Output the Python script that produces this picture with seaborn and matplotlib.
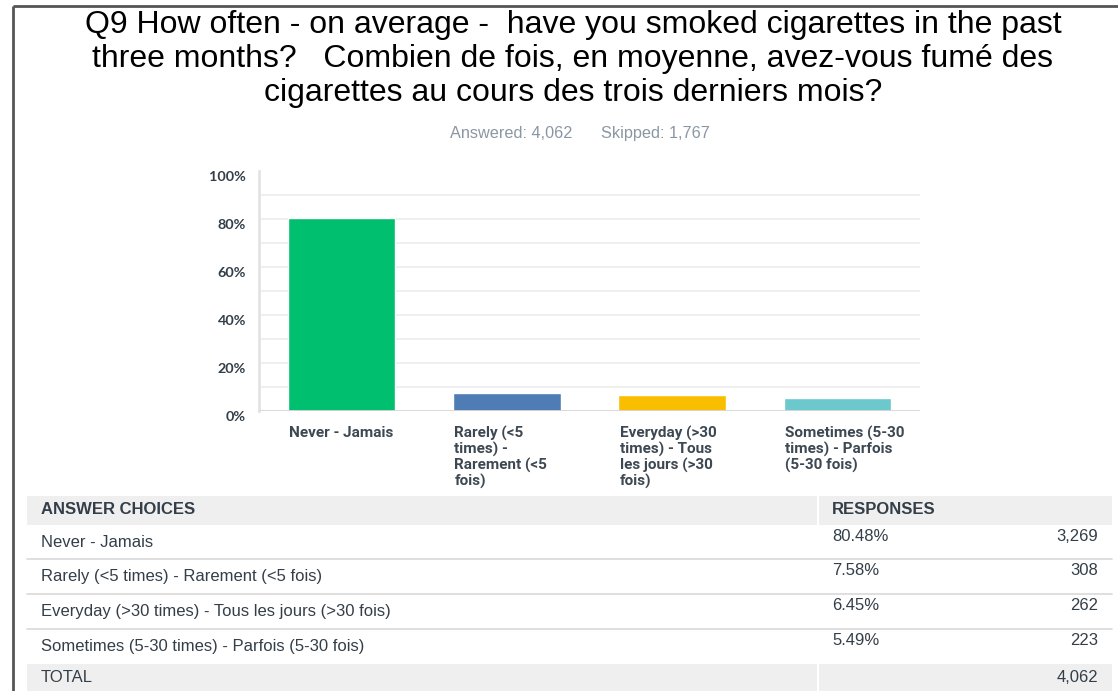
import textwrap
import matplotlib
matplotlib.use("Agg")
import matplotlib.pyplot as plt
import matplotlib.transforms as mtransforms
from matplotlib.patches import Rectangle
import pandas as pd
import seaborn as sns

# ---- data -------------------------------------------------------------
title_lines = [
    "Q9 How often - on average -  have you smoked cigarettes in the past",
    "three months?   Combien de fois, en moyenne, avez-vous fumé des",
    "cigarettes au cours des trois derniers mois?",
]
answered = 4062
skipped = 1767
choices = [
    "Never - Jamais",
    "Rarely (<5 times) - Rarement (<5 fois)",
    "Everyday (>30 times) - Tous les jours (>30 fois)",
    "Sometimes (5-30 times) - Parfois (5-30 fois)",
]
percents = [80.48, 7.58, 6.45, 5.49]
counts = [3269, 308, 262, 223]
total = 4062
bar_colors = ["#00BF6F", "#507CB6", "#F9BE00", "#6BC8CD"]
y_ticks = [0, 20, 40, 60, 80, 100]

# ---- figure -----------------------------------------------------------
sns.set_theme(style="white")
plt.rcParams["font.family"] = ["Liberation Sans", "DejaVu Sans"]

W, H = 1118, 691
fig = plt.figure(figsize=(W / 100, H / 100), dpi=100)
fig.patch.set_facecolor("white")

# full-figure layer in pixel units for frame, title and table
deco = fig.add_axes([0, 0, 1, 1], zorder=0)
deco.set_xlim(0, W)
deco.set_ylim(H, 0)
deco.axis("off")

# outer frame (top and left edges visible)
deco.plot([13, W + 5], [6, 6], color="#555555", lw=2, solid_capstyle="butt")
deco.plot([13, 13], [6, H + 5], color="#555555", lw=2, solid_capstyle="butt")

# title
for i, line in enumerate(title_lines):
    deco.text(573, 25 + i * 34, line, ha="center", va="center",
              fontsize=23, color="#000000")

deco.text(511, 133, f"Answered: {answered:,}", ha="center", va="center",
          fontsize=11.7, color="#8A97A3")
deco.text(655, 133, f"Skipped: {skipped:,}", ha="center", va="center",
          fontsize=11.7, color="#8A97A3")

# ---- bar chart --------------------------------------------------------
ax_l, ax_r, ax_b, ax_t = 259, 920, 410.7, 170.7
ax = fig.add_axes([ax_l / W, 1 - ax_b / H, (ax_r - ax_l) / W, (ax_b - ax_t) / H],
                  zorder=1)
ax.patch.set_alpha(0)

wrapped = ["\n".join(textwrap.wrap(c, 16, break_on_hyphens=False)) for c in choices]
df = pd.DataFrame({"choice": wrapped, "pct": percents})
sns.barplot(data=df, x="choice", y="pct", hue="choice", palette=bar_colors,
            width=0.65, legend=False, saturation=1, ax=ax, zorder=3)

ax.set_xlim(-0.5, len(choices) - 0.5)
ax.set_ylim(0, 100)
for g in range(10, 100, 10):
    ax.axhline(g, color="#ECECEC", lw=1.2, zorder=1)
ax.axhline(0, color="#D6D6D6", lw=2, zorder=4)

for s in ["top", "right", "bottom"]:
    ax.spines[s].set_visible(False)
ax.spines["left"].set_color("#E3E3E3")
ax.spines["left"].set_linewidth(2)

ax.set_xlabel("")
ax.set_ylabel("")

# y labels: right-aligned, sitting a little below their gridlines
ax.set_yticks(y_ticks)
ax.set_yticklabels([])
ax.tick_params(axis="y", length=0)
ytrans = mtransforms.blended_transform_factory(ax.transAxes, ax.transData)
ydown = mtransforms.ScaledTranslation(-13 / 100, -6 / 100, fig.dpi_scale_trans)
for t in y_ticks:
    ax.text(0, t, f"{t}%", transform=ytrans + ydown, ha="right", va="center",
            fontfamily="Lato", fontweight="bold", fontsize=10.4, color="#333E48")

ax.set_xticks(range(len(choices)))
ax.set_xticklabels([])
ax.tick_params(axis="x", length=0)
trans = mtransforms.blended_transform_factory(ax.transData, ax.transAxes)
for i, lab in enumerate(wrapped):
    ax.text(i - 0.325 + 0.008, -0.064, lab, transform=trans, ha="left", va="top",
            fontfamily="Roboto", fontweight="bold", fontsize=11,
            color="#3D4852", linespacing=1.08)

# ---- table ------------------------------------------------------------
tx0, tx1, split = 27, 1112, 818
hdr_top, hdr_bot = 496, 525
row_edges = [525, 559, 594, 629, 664]
tot_bot = 700
hdr_bg = "#EFEFEF"
txt = "#333E48"
fs = 12

deco.add_patch(Rectangle((tx0, hdr_top), split - 1 - tx0, hdr_bot - hdr_top,
                         color=hdr_bg, lw=0))
deco.add_patch(Rectangle((split + 1, hdr_top), tx1 - split - 1, hdr_bot - hdr_top,
                         color=hdr_bg, lw=0))
deco.text(41, 509.5, "ANSWER CHOICES", ha="left", va="center", fontsize=fs,
          fontweight="bold", color=txt)
deco.text(832, 509.5, "RESPONSES", ha="left", va="center", fontsize=fs,
          fontweight="bold", color=txt)

for i, (c, p, n) in enumerate(zip(choices, percents, counts)):
    top, bot = row_edges[i], row_edges[i + 1]
    deco.text(41, top + 17.5, c, ha="left", va="center", fontsize=fs, color=txt)
    deco.text(832, top + 11.5, f"{p:.2f}%", ha="left", va="center",
              fontsize=fs, color=txt)
    deco.text(1098, top + 11.5, f"{n:,}", ha="right", va="center",
              fontsize=fs, color=txt)
    if i < len(choices) - 1:
        deco.plot([tx0, tx1], [bot, bot], color="#D9D9D9", lw=1.2)

deco.add_patch(Rectangle((tx0, row_edges[-1]), split - 1 - tx0,
                         tot_bot - row_edges[-1], color=hdr_bg, lw=0))
deco.add_patch(Rectangle((split + 1, row_edges[-1]), tx1 - split - 1,
                         tot_bot - row_edges[-1], color=hdr_bg, lw=0))
deco.text(41, 677, "TOTAL", ha="left", va="center", fontsize=fs, color=txt)
deco.text(1098, 677, f"{total:,}", ha="right", va="center", fontsize=fs,
          color=txt)

fig.savefig("out.png", dpi=100, facecolor="white")
